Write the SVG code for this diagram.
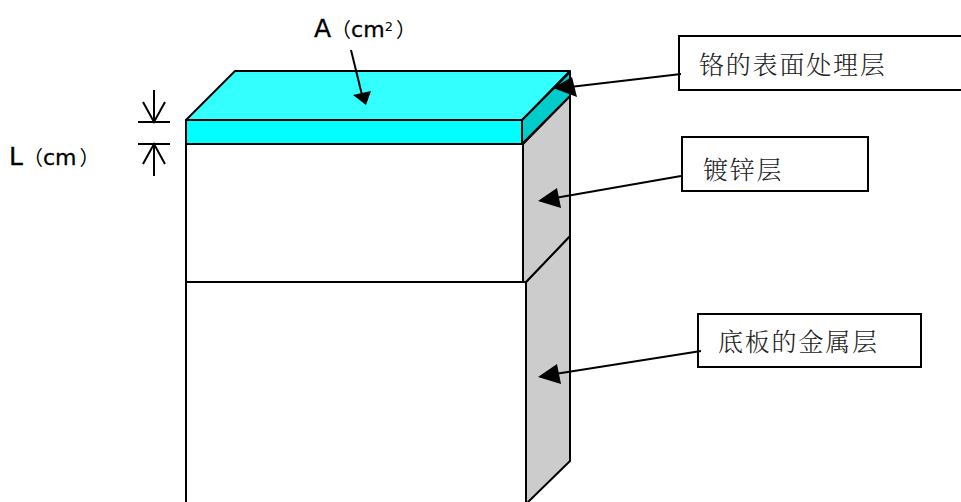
<svg xmlns="http://www.w3.org/2000/svg" width="961" height="502" viewBox="0 0 961 502">
<style>
.s{stroke:#000;stroke-width:2;stroke-linejoin:round}
.l{stroke:#000;stroke-width:2;fill:none}
.h{fill:#000;stroke:none}
.box{fill:#fff;stroke:#000;stroke-width:2}
.zh{font-family:"Noto Serif CJK SC","Noto Sans CJK SC",sans-serif;font-weight:300;font-size:25px;letter-spacing:1.8px;fill:#222}
.lab{font-family:"DejaVu Sans",sans-serif;font-size:22px;fill:#000;stroke:#000;stroke-width:.3}
.cap{font-size:25px}
.sup{font-size:13px;stroke-width:0}
.p{font-family:"Noto Sans CJK JP",sans-serif;font-size:20px;stroke-width:0}
</style>
<rect width="961" height="502" fill="#fff"/>
<g id="block">
<polygon class="s" points="186,282 526,282 526,510 186,510" fill="#fff"/>
<polygon class="s" points="526,282 570,236 570,461 526,504" fill="#ccc"/>
<polygon class="s" points="186,144 523,144 523,282 186,282" fill="#fff"/>
<polygon class="s" points="523,144 570,96 570,236 526,282 523,282" fill="#ccc"/>
<polygon class="s" points="186,120 522,120 522,144 186,144" fill="#0ff"/>
<polygon class="s" points="522,120 570,72 570,96 522,144" fill="#0cc"/>
<polygon class="s" points="186,120 235,71 570,71 522,120" fill="#3ff"/>
</g>
<g id="label-area">
<text class="lab" x="314" y="37"><tspan class="cap">A</tspan><tspan class="p">（</tspan>cm<tspan class="sup" dy="-6">2</tspan><tspan class="p" dy="6" dx="3">）</tspan></text>
</g>
<g id="label-thickness">
<text class="lab" x="9" y="165"><tspan class="cap">L</tspan><tspan class="p">（</tspan>cm<tspan class="p" dx="3">）</tspan></text>
</g>
<g id="node-chrome">
<rect class="box" x="679" y="36" width="290" height="54"/>
<text class="zh" x="699" y="74">铬的表面处理层</text>
</g>
<g id="node-zinc">
<rect class="box" x="682" y="137" width="186" height="54"/>
<text class="zh" x="703" y="179">镀锌层</text>
</g>
<g id="node-base">
<rect class="box" x="698" y="314" width="223" height="53"/>
<text class="zh" x="718" y="351">底板的金属层</text>
</g>
<g id="connectors">
<line class="l" x1="351" y1="50" x2="362" y2="95"/>
<polygon class="h" points="366,105 353,95 371,91"/>
<line class="l" x1="681" y1="74" x2="570" y2="87"/>
<polygon class="h" points="553,88 572,77 577,97"/>
<line class="l" x1="681" y1="176" x2="555" y2="198"/>
<polygon class="h" points="538,201 557,188 561,208"/>
<line class="l" x1="701" y1="351" x2="555" y2="374"/>
<polygon class="h" points="538,377 557,364 561,384"/>
<path class="l" d="M138 122H170M154 90V122M143 102L154 122L165 102"/>
<path class="l" d="M138 144H170M154 176V144M143 164L154 144L165 164"/>
</g>
</svg>
